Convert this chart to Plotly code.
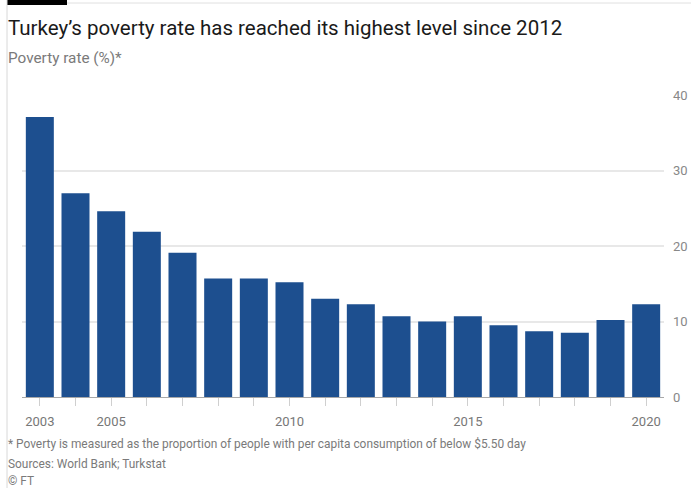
import plotly.graph_objects as go

years = list(range(2003, 2021))
poverty_rate = [37.1, 27.0, 24.6, 21.9, 19.1, 15.7, 15.7, 15.2, 13.0, 12.3,
                10.7, 10.0, 10.7, 9.5, 8.7, 8.5, 10.2, 12.3]
labeled_years = [2003, 2005, 2010, 2015, 2020]
y_ticks = [0, 10, 20, 30, 40]

title_text = "Turkey\u2019s poverty rate has reached its highest level since 2012"
subtitle_text = "Poverty rate (%)*"
footnote_text = "* Poverty is measured as the proportion of people with per capita consumption of below $5.50 day"
source_text = "Sources: World Bank; Turkstat"
credit_text = "\u00a9 FT"

W, H = 691, 488
L, R, T, B = 22, 27, 95, 91
pw, ph = W - L - R, H - T - B

def px_x(p):
    return (p - L) / pw

def px_y(p):
    return (H - B - p) / ph

fig = go.Figure()
fig.add_trace(go.Bar(
    x=years, y=poverty_rate,
    marker=dict(color="#1d4f8f", line=dict(width=0)),
    hoverinfo="x+y",
))

font_family = "Roboto, Open Sans, Arial, sans-serif"

fig.update_layout(
    width=W, height=H,
    margin=dict(l=L, r=R, t=T, b=B, autoexpand=False),
    paper_bgcolor="white", plot_bgcolor="white",
    bargap=0.215,
    showlegend=False,
    font=dict(family=font_family, color="#777777"),
    xaxis=dict(
        range=[2002.5, 2020.5],
        tickmode="array",
        tickvals=years,
        ticktext=[str(y) if y in labeled_years else "" for y in years],
        ticks="outside", ticklen=8, tickcolor="#cfcfcf", tickwidth=1,
        ticklabelstandoff=4, automargin=False,
        showgrid=False, zeroline=False,
        showline=True, linecolor="#a8a8a8", linewidth=1,
        tickfont=dict(size=13, color="#777777"),
    ),
    yaxis=dict(
        side="right",
        range=[0, 40],
        tickvals=y_ticks,
        showgrid=True, gridcolor="#e8e8e8", gridwidth=1.5,
        zeroline=False, showline=False, automargin=False,
        ticks="", ticklabelstandoff=8,
        tickfont=dict(size=13, color="#888888"),
    ),
    shapes=[
        dict(type="rect", xref="paper", yref="paper",
             x0=px_x(7), x1=px_x(67), y0=px_y(0), y1=px_y(5),
             fillcolor="black", line=dict(width=0)),
        dict(type="line", xref="paper", yref="paper",
             x0=px_x(67), x1=px_x(691), y0=px_y(3), y1=px_y(3),
             line=dict(color="#e0e0e0", width=1)),
        dict(type="line", xref="paper", yref="paper",
             x0=px_x(7), x1=px_x(7), y0=px_y(0), y1=px_y(488),
             line=dict(color="#d8d8d8", width=1)),
    ],
    annotations=[
        dict(text=title_text, xref="paper", yref="paper",
             x=px_x(6), y=px_y(28), xanchor="left", yanchor="middle",
             showarrow=False, font=dict(size=20.5, color="#1a1a1a", family=font_family)),
        dict(text=subtitle_text, xref="paper", yref="paper",
             x=px_x(6), y=px_y(58), xanchor="left", yanchor="middle",
             showarrow=False, font=dict(size=15.3, color="#7a7a7a", family=font_family)),
        dict(text=footnote_text, xref="paper", yref="paper",
             x=px_x(6), y=px_y(444), xanchor="left", yanchor="middle",
             showarrow=False, font=dict(size=11.9, color="#7a7a7a", family=font_family)),
        dict(text=source_text, xref="paper", yref="paper",
             x=px_x(6), y=px_y(464), xanchor="left", yanchor="middle",
             showarrow=False, font=dict(size=11.9, color="#7a7a7a", family=font_family)),
        dict(text=credit_text, xref="paper", yref="paper",
             x=px_x(6), y=px_y(481), xanchor="left", yanchor="middle",
             showarrow=False, font=dict(size=11.9, color="#7a7a7a", family=font_family)),
    ],
)

fig.write_html(
    "out.html",
    config={"displayModeBar": False},
    post_script="document.body.style.margin='0';document.body.style.overflow='hidden';",
)
